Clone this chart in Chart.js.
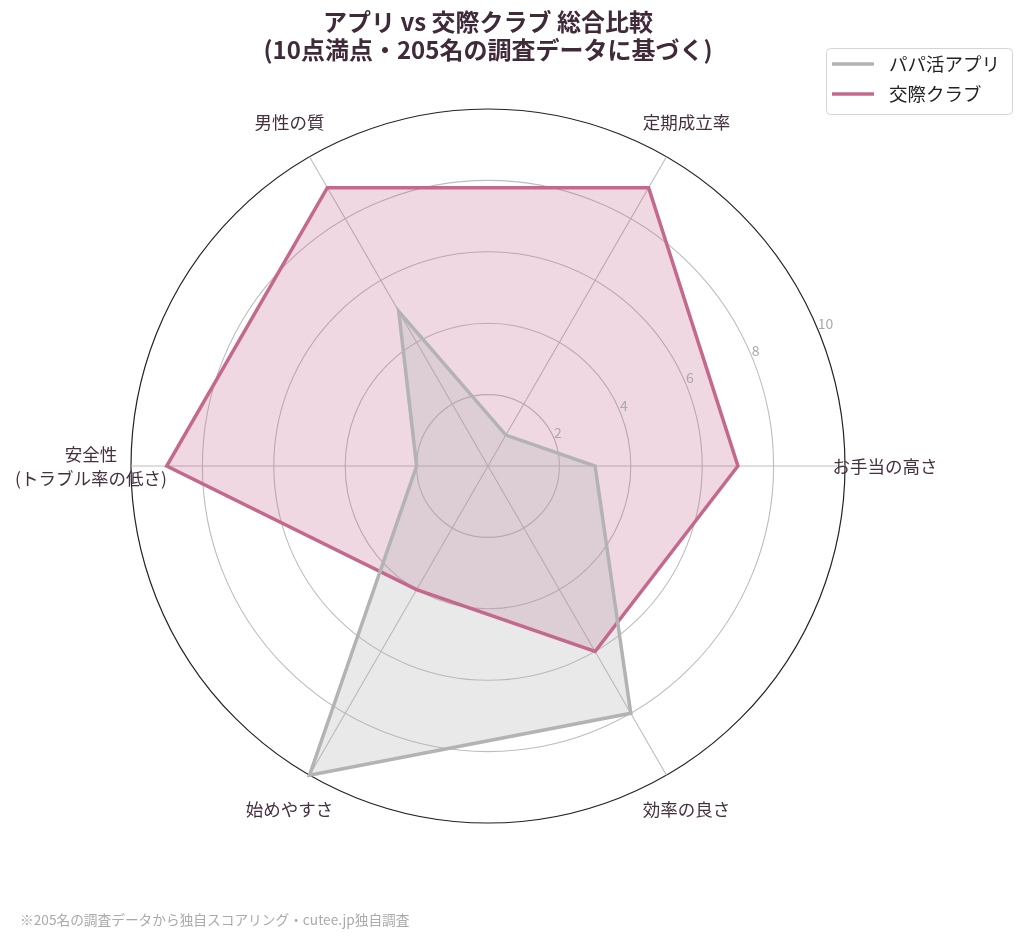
<!DOCTYPE html>
<html>
<head>
<meta charset="utf-8">
<script src="https://cdn.jsdelivr.net/npm/chart.js@4/dist/chart.umd.min.js"></script>
<style>
  html, body { margin: 0; padding: 0; background: #ffffff; }
  #wrap { position: relative; width: 1024px; height: 939px; }
</style>
</head>
<body>
<div id="wrap"><canvas id="c"></canvas></div>
<script>
// ---- data (clockwise from the right-hand axis) ----
const categories = ['お手当の高さ', '効率の良さ', '始めやすさ', ['安全性', '(トラブル率の低さ)'], '男性の質', '定期成立率'];
const appScores = [3, 8, 10, 2, 5, 1];
const clubScores = [7, 6, 4, 9, 9, 9];
const seriesNames = ['パパ活アプリ', '交際クラブ'];
const titleLines = ['アプリ vs 交際クラブ 総合比較', '(10点満点・205名の調査データに基づく)'];
const footnote = '※205名の調査データから独自スコアリング・cutee.jp独自調査';
const scaleMax = 10;
const tickStep = 2;

const FONT = '"Noto Sans CJK JP", "Noto Sans", sans-serif';
const GRAY = '#b3b3b3';
const PINK = '#c4688d';
const TEXT = '#45303f';
const GRID = '#bdbdbd';

const overlay = {
  id: 'overlay',
  afterDraw(chart) {
    const ctx = chart.ctx;
    const s = chart.scales.r;
    ctx.save();
    // radial tick labels along 22.5 degrees
    const a = -22.5 * Math.PI / 180;
    ctx.font = '14px ' + FONT;
    ctx.fillStyle = '#aaaaaa';
    ctx.textAlign = 'left';
    ctx.textBaseline = 'bottom';
    s.ticks.forEach(t => {
      if (t.value <= 0) return;
      const r = s.getDistanceFromCenterForValue(t.value);
      ctx.fillText(String(t.value), s.xCenter + r * Math.cos(a), s.yCenter + r * Math.sin(a) + 1);
    });
    // point labels
    ctx.font = '17.5px ' + FONT;
    ctx.fillStyle = TEXT;
    ctx.textAlign = 'center';
    ctx.textBaseline = 'middle';
    chart.data.labels.forEach((lab, i) => {
      const p = s.getPointPosition(i, s.drawingArea * 1.112);
      const lines = Array.isArray(lab) ? lab : [lab];
      const lh = 24;
      lines.forEach((ln, k) => {
        ctx.fillText(ln, p.x, p.y + (k - (lines.length - 1) / 2) * lh);
      });
    });
    // legend box
    const bx = 826, by = 48, bw = 186, bh = 66;
    ctx.beginPath();
    ctx.roundRect(bx + 0.5, by + 0.5, bw, bh, 4);
    ctx.fillStyle = 'rgba(255,255,255,0.9)';
    ctx.fill();
    ctx.strokeStyle = '#d4d4d4';
    ctx.lineWidth = 1;
    ctx.stroke();
    ctx.font = '18.5px ' + FONT;
    ctx.textAlign = 'left';
    ctx.textBaseline = 'middle';
    chart.data.datasets.filter(ds => ds.isLine).forEach((ds, i) => {
      const y = 64 + i * 30;
      ctx.beginPath();
      ctx.moveTo(832, y);
      ctx.lineTo(874, y);
      ctx.strokeStyle = ds.borderColor;
      ctx.lineWidth = 3.5;
      ctx.stroke();
      ctx.fillStyle = '#222222';
      ctx.fillText(ds.label, 889, y);
    });
    // footnote
    ctx.font = '13.7px ' + FONT;
    ctx.fillStyle = '#aaaaaa';
    ctx.textAlign = 'left';
    ctx.fillText(footnote, 20, 920);
    ctx.restore();
  }
};

new Chart(document.getElementById('c'), {
  type: 'radar',
  data: {
    labels: categories,
    datasets: [
      { // outline, app
        label: seriesNames[0], isLine: true,
        data: appScores,
        borderColor: GRAY, backgroundColor: 'rgba(0,0,0,0)',
        borderWidth: 3.5, pointRadius: 0, fill: false, order: 0
      },
      { // outline, club
        label: seriesNames[1], isLine: true,
        data: clubScores,
        borderColor: PINK, backgroundColor: 'rgba(0,0,0,0)',
        borderWidth: 3.5, pointRadius: 0, fill: false, order: 1
      },
      { // fill, app
        label: seriesNames[0] + ' fill',
        data: appScores,
        borderWidth: 0, borderColor: 'rgba(0,0,0,0)',
        backgroundColor: 'rgba(176,176,176,0.28)',
        pointRadius: 0, fill: true, order: 2
      },
      { // fill, club
        label: seriesNames[1] + ' fill',
        data: clubScores,
        borderWidth: 0, borderColor: 'rgba(0,0,0,0)',
        backgroundColor: 'rgba(190,100,138,0.25)',
        pointRadius: 0, fill: true, order: 3
      }
    ]
  },
  options: {
    responsive: true,
    maintainAspectRatio: false,
    animation: false,
    layout: { padding: { left: 130, right: 178, top: 0, bottom: 115 } },
    elements: { line: { tension: 0, borderJoinStyle: 'miter' } },
    plugins: {
      legend: { display: false },
      tooltip: { enabled: false },
      title: {
        display: true,
        text: titleLines,
        color: '#3f2a3a',
        font: { family: FONT, size: 24, weight: 'bold', lineHeight: 1.17 },
        padding: { top: 8, bottom: 44 }
      }
    },
    scales: {
      r: {
        min: 0,
        max: scaleMax,
        startAngle: 90,
        beginAtZero: true,
        ticks: { display: false, stepSize: tickStep },
        pointLabels: { display: false },
        grid: {
          circular: true,
          color: c => (c.tick && c.tick.value === scaleMax) ? '#222222' : GRID,
          lineWidth: c => (c.tick && c.tick.value === scaleMax) ? 1.2 : 1.1
        },
        angleLines: { display: true, color: GRID, lineWidth: 1.1 }
      }
    }
  },
  plugins: [overlay]
});
</script>
</body>
</html>
